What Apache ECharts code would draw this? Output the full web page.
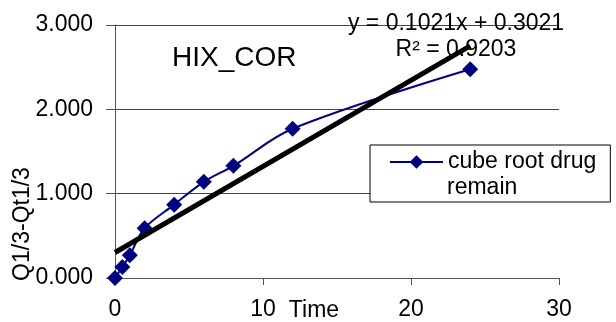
<!DOCTYPE html>
<html>
<head>
<meta charset="utf-8">
<script src="https://cdn.jsdelivr.net/npm/echarts@6/dist/echarts.min.js"></script>
<style>
  html, body { margin: 0; padding: 0; background: #fff; }
  #chart { width: 616px; height: 322px; }
</style>
</head>
<body>
<div id="chart"></div>
<script>
// Data
const timeValues = [0, 0.5, 1, 2, 4, 6, 8, 12, 24];
const cubeRootRemain = [0.000, 0.13, 0.27, 0.59, 0.87, 1.14, 1.33, 1.77, 2.475];
const trendSlope = 0.1021;
const trendIntercept = 0.3021;
const trendX = [0, 24];
const yTicks = [0, 1, 2, 3];
const xTicks = [0, 10, 20, 30];
const seriesName = 'cube root drug remain';
const chartTitle = 'HIX_COR';
const eqLine1 = 'y = 0.1021x + 0.3021';
const eqLine2 = 'R² = 0.9203';
const xTitle = 'Time';
const yTitle = 'Q1/3-Qt1/3';

const FONT = 'Liberation Sans, Arial, sans-serif';
const seriesData = timeValues.map((t, i) => [t, cubeRootRemain[i]]);
const trendData = trendX.map(x => [x, trendSlope * x + trendIntercept]);

const chart = echarts.init(document.getElementById('chart'), null, { renderer: 'canvas' });
chart.setOption({
  backgroundColor: '#ffffff',
  animation: false,
  grid: { left: 115, right: 57, top: 25, bottom: 44, containLabel: false },
  xAxis: {
    type: 'value', min: xTicks[0], max: xTicks[xTicks.length - 1], interval: 10,
    axisLine: { show: true, lineStyle: { color: '#555', width: 1 } },
    axisTick: { show: true, length: 7, lineStyle: { color: '#555' } },
    splitLine: { show: false },
    axisLabel: { margin: 20, color: '#000', fontFamily: FONT, fontSize: 23 }
  },
  yAxis: {
    type: 'value', min: yTicks[0], max: yTicks[yTicks.length - 1], interval: 1,
    axisLine: { show: true, lineStyle: { color: '#555', width: 1 } },
    axisTick: { show: true, length: 9, lineStyle: { color: '#555' } },
    splitLine: { show: true, lineStyle: { color: '#444', width: 1 } },
    axisLabel: { margin: 22, color: '#000', fontFamily: FONT, fontSize: 23,
      formatter: v => v.toFixed(3) }
  },
  legend: {
    show: true,
    left: 370, top: 145,
    orient: 'vertical',
    padding: [4, 14, 27, 19],
    borderColor: '#000', borderWidth: 1,
    backgroundColor: '#fff',
    itemWidth: 53, itemHeight: 17, itemGap: 5,
    data: [seriesName],
    formatter: () => 'cube root drug',
    textStyle: { color: '#000', fontFamily: FONT, fontSize: 23, lineHeight: 26, padding: [0, 0, 0, 0] }
  },
  series: [
    {
      name: seriesName,
      type: 'line',
      data: seriesData,
      smooth: 0.35,
      symbol: 'diamond',
      symbolSize: 16,
      lineStyle: { color: '#000080', width: 2 },
      itemStyle: { color: '#000080' },
      z: 2
    },
    {
      name: 'trend',
      type: 'line',
      data: trendData,
      symbol: 'none',
      lineStyle: { color: '#000', width: 5 },
      z: 3
    }
  ],
  graphic: [
    { type: 'text', left: 172, top: 44, z: 10,
      style: { text: chartTitle, fill: '#000', font: '28px ' + FONT } },
    { type: 'text', x: 456, y: 24, z: 10,
      style: { text: eqLine1, fill: '#000', font: '23px ' + FONT, textAlign: 'center', textVerticalAlign: 'middle' } },
    { type: 'text', x: 456, y: 50, z: 10,
      style: { text: eqLine2, fill: '#000', font: '23px ' + FONT, textAlign: 'center', textVerticalAlign: 'middle' } },
    { type: 'text', x: 447, y: 188, z: 10,
      style: { text: 'remain', fill: '#000', font: '23px ' + FONT, textAlign: 'left', textVerticalAlign: 'middle' } },
    { type: 'text', x: 314, y: 311, z: 10,
      style: { text: xTitle, fill: '#000', font: '23px ' + FONT, textAlign: 'center', textVerticalAlign: 'middle' } },
    { type: 'text', x: 23, y: 224, rotation: Math.PI / 2, z: 10,
      style: { text: yTitle, fill: '#000', font: '23px ' + FONT, textAlign: 'center', textVerticalAlign: 'middle' } }
  ]
});
</script>
</body>
</html>
